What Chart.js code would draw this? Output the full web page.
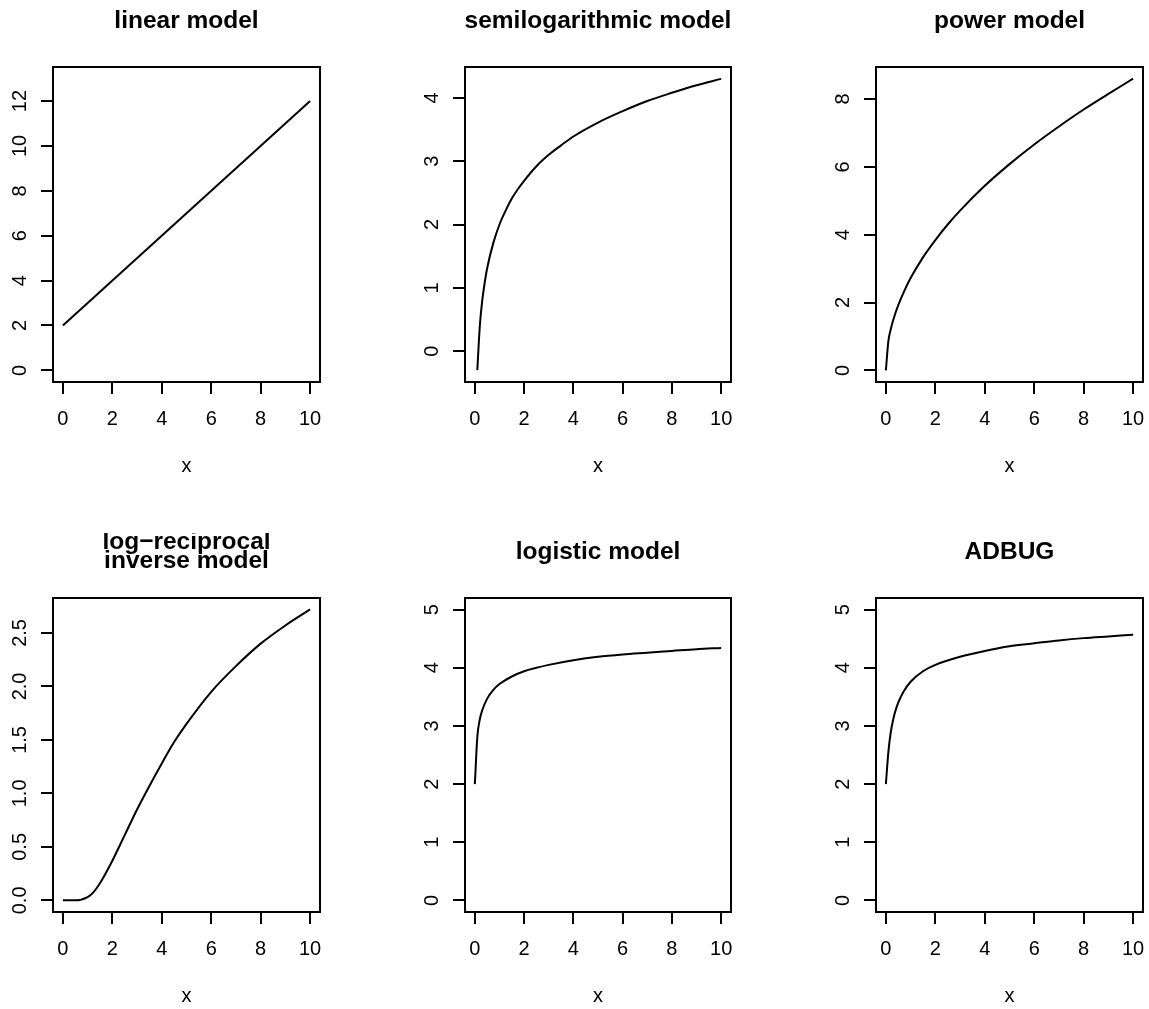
<!DOCTYPE html>
<html>
<head>
<meta charset="utf-8">
<script src="https://cdn.jsdelivr.net/npm/chart.js@4/dist/chart.umd.min.js"></script>
<style>
  html, body { margin: 0; padding: 0; background: #fff; overflow: hidden; }
  #page { position: relative; width: 1149px; height: 1009px; }
  #page canvas { position: absolute; }
</style>
</head>
<body>
<div id="page"></div>
<script>
// values
const xTicks = [0, 2, 4, 6, 8, 10];

const linearX = [0, 10];
const linearY = [2, 12];
const linearYTicks = [0, 2, 4, 6, 8, 10, 12];

const semilogX = [0.1, 0.2, 0.3, 0.4, 0.5, 0.75, 1, 1.25, 1.5, 1.75, 2, 2.5, 3, 3.5, 4, 5, 6, 7, 8, 9, 10];
const semilogY = [-0.30, 0.39, 0.80, 1.08, 1.31, 1.71, 2.00, 2.22, 2.41, 2.56, 2.69, 2.92, 3.10, 3.25, 3.39, 3.61, 3.79, 3.95, 4.08, 4.20, 4.30];
const semilogYTicks = [0, 1, 2, 3, 4];

const powerX = [0, 0.1, 0.2, 0.3, 0.5, 0.75, 1, 1.5, 2, 2.5, 3, 4, 5, 6, 7, 8, 9, 10];
const powerY = [0, 0.86, 1.22, 1.49, 1.92, 2.35, 2.72, 3.33, 3.84, 4.30, 4.71, 5.44, 6.08, 6.66, 7.19, 7.69, 8.15, 8.60];
const powerYTicks = [0, 2, 4, 6, 8];

const logRecipX = [0, 0.5, 1, 1.25, 1.5, 1.75, 2, 2.5, 3, 3.5, 4, 4.5, 5, 6, 7, 8, 9, 10];
const logRecipY = [0, 0.00, 0.03, 0.08, 0.16, 0.26, 0.37, 0.61, 0.85, 1.07, 1.28, 1.48, 1.65, 1.95, 2.19, 2.40, 2.57, 2.72];
const logRecipYTicks = [0, 0.5, 1, 1.5, 2, 2.5];

const logisticX = [0, 0.1, 0.2, 0.3, 0.5, 0.75, 1, 1.5, 2, 2.5, 3, 4, 5, 6, 7, 8, 9, 10];
const logisticY = [2, 2.81, 3.11, 3.27, 3.47, 3.62, 3.72, 3.85, 3.94, 4.00, 4.05, 4.13, 4.19, 4.23, 4.26, 4.29, 4.32, 4.34];
const logisticYTicks = [0, 1, 2, 3, 4, 5];

const adbugX = [0, 0.1, 0.2, 0.3, 0.4, 0.5, 0.7, 1, 1.5, 2, 3, 4, 5, 6, 7, 8, 9, 10];
const adbugY = [2, 2.55, 2.90, 3.12, 3.28, 3.40, 3.58, 3.76, 3.94, 4.05, 4.19, 4.29, 4.37, 4.42, 4.47, 4.51, 4.54, 4.57];
const adbugYTicks = [0, 1, 2, 3, 4, 5];

const FONT = '"Liberation Sans", Arial, Helvetica, sans-serif';

// R style pad: 4% of the range on each side
const padRange = (lo, hi) => [lo - (hi - lo) * 0.04, hi + (hi - lo) * 0.04];

const panels = [
  { title: ['linear model'], xs: linearX, ys: linearY, yTicks: linearYTicks, yLim: padRange(0, 13), digits: 0, box: [53, 67, 320, 382] },
  { title: ['semilogarithmic model'], xs: semilogX, ys: semilogY, yTicks: semilogYTicks, yLim: padRange(-0.303, 4.303), digits: 0, box: [465, 67, 731, 382] },
  { title: ['power model'], xs: powerX, ys: powerY, yTicks: powerYTicks, yLim: padRange(0, 8.6), digits: 0, box: [876, 67, 1143, 382] },
  { title: ['log\u2212reciprocal', 'inverse model'], xs: logRecipX, ys: logRecipY, yTicks: logRecipYTicks, yLim: padRange(0, 2.718), digits: 1, box: [53, 598, 320, 912] },
  { title: ['logistic model'], xs: logisticX, ys: logisticY, yTicks: logisticYTicks, yLim: padRange(0, 5), digits: 0, box: [465, 598, 731, 912] },
  { title: ['ADBUG'], xs: adbugX, ys: adbugY, yTicks: adbugYTicks, yLim: padRange(0, 5), digits: 0, box: [876, 598, 1143, 912] }
];

const Y_AXIS_W = 50, X_AXIS_H = 100, PAD_TOP = 65, PAD_RIGHT = 8;

// box, titles and tick labels drawn the way base R does it
const rStyle = {
  id: 'rStyle',
  afterDraw(chart, args, opts) {
    const { ctx, chartArea: a, scales } = chart;
    const cx = (a.left + a.right) / 2;
    ctx.save();
    ctx.strokeStyle = '#000';
    ctx.lineWidth = 2;
    ctx.strokeRect(a.left, a.top, a.right - a.left, a.bottom - a.top);

    ctx.fillStyle = '#000';
    ctx.textAlign = 'center';
    ctx.textBaseline = 'alphabetic';
    ctx.font = 'bold 24.5px ' + FONT;
    if (opts.title.length === 1) {
      ctx.fillText(opts.title[0], cx, a.top - 39);
    } else {
      ctx.fillText(opts.title[0], cx, a.top - 49.5);
      ctx.fillText(opts.title[1], cx, a.top - 30);
    }

    ctx.font = '20px ' + FONT;
    xTicks.forEach(v => ctx.fillText(String(v), scales.x.getPixelForValue(v), a.bottom + 43));
    ctx.fillText('x', cx, a.bottom + 89.5);

    opts.yTicks.forEach(v => {
      ctx.save();
      ctx.translate(a.left - 27, scales.y.getPixelForValue(v));
      ctx.rotate(-Math.PI / 2);
      ctx.fillText(v.toFixed(opts.digits), 0, 0);
      ctx.restore();
    });
    ctx.restore();
  }
};

const page = document.getElementById('page');

panels.forEach(p => {
  const [L, T, R, B] = p.box;
  const canvas = document.createElement('canvas');
  const w = R - L + Y_AXIS_W + PAD_RIGHT;
  const h = B - T + PAD_TOP + X_AXIS_H;
  canvas.width = w;
  canvas.height = h;
  canvas.style.left = (L - Y_AXIS_W) + 'px';
  canvas.style.top = (T - PAD_TOP) + 'px';
  canvas.style.width = w + 'px';
  canvas.style.height = h + 'px';
  page.appendChild(canvas);

  const tickGrid = { drawOnChartArea: false, drawTicks: true, tickLength: 12, color: '#000', lineWidth: 2 };

  new Chart(canvas.getContext('2d'), {
    type: 'line',
    data: {
      datasets: [{
        data: p.xs.map((x, i) => ({ x, y: p.ys[i] })),
        borderColor: '#000',
        borderWidth: 2,
        pointRadius: 0,
        fill: false,
        cubicInterpolationMode: 'monotone'
      }]
    },
    options: {
      responsive: false,
      animation: false,
      devicePixelRatio: 1,
      layout: { padding: { top: PAD_TOP, right: PAD_RIGHT, left: 0, bottom: 0 } },
      plugins: {
        legend: { display: false },
        tooltip: { enabled: false },
        rStyle: { title: p.title, yTicks: p.yTicks, digits: p.digits }
      },
      scales: {
        x: {
          type: 'linear',
          min: -0.4,
          max: 10.4,
          grid: tickGrid,
          border: { display: false },
          ticks: { display: false },
          afterBuildTicks: s => { s.ticks = xTicks.map(v => ({ value: v })); },
          afterFit: s => { s.height = X_AXIS_H; }
        },
        y: {
          type: 'linear',
          min: p.yLim[0],
          max: p.yLim[1],
          grid: tickGrid,
          border: { display: false },
          ticks: { display: false },
          afterBuildTicks: s => { s.ticks = p.yTicks.map(v => ({ value: v })); },
          afterFit: s => { s.width = Y_AXIS_W; }
        }
      }
    },
    plugins: [rStyle]
  });
});
</script>
</body>
</html>
